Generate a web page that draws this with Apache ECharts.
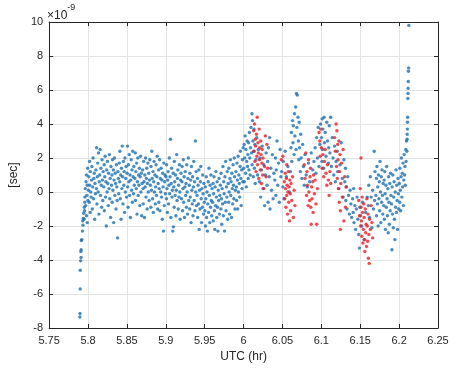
<!DOCTYPE html>
<html>
<head>
<meta charset="utf-8">
<script src="https://cdn.jsdelivr.net/npm/echarts@6/dist/echarts.min.js"></script>
<style>
  html, body { margin: 0; padding: 0; background: #ffffff; }
  #chart { width: 457px; height: 368px; }
</style>
</head>
<body>
<div id="chart"></div>
<script>
// Time offset samples: [UTC hour, offset in units of 1e-9 s]
const bluePoints = [
  // start-up tail
  [5.7895,-7.35],[5.7897,-7.15],[5.7899,-5.7],[5.790,-4.6],[5.7905,-4.05],[5.791,-3.85],[5.7908,-3.5],[5.7912,-3.4],[5.7915,-2.85],[5.7920,-2.8],
  [5.7928,-2.3],[5.7935,-1.95],[5.7932,-1.7],[5.7940,-1.55],[5.7945,-1.25],[5.7950,-1.6],[5.7952,-0.9],[5.7958,-0.6],[5.7955,-1.1],[5.796,-0.3],
  [5.7965,0.2],[5.797,-0.8],[5.7975,0.6],[5.798,-1.4],[5.798,1.0],[5.7985,-0.2],[5.799,0.4],[5.799,-1.8],[5.7995,1.4],[5.7998,-0.5],
  // 5.80 - 5.90
  [5.8005,0.1],[5.801,0.9],[5.8015,-0.6],[5.802,1.8],[5.8022,0.4],[5.8028,-1.2],[5.803,1.2],[5.8035,0.0],[5.804,-0.3],[5.8045,0.7],
  [5.805,1.5],[5.8055,-1.0],[5.806,0.3],[5.8065,2.0],[5.807,-0.4],[5.8075,0.8],[5.808,1.1],[5.8085,-1.6],[5.809,0.5],[5.8095,-0.1],
  [5.8102,1.3],[5.8108,0.2],[5.811,2.6],[5.8115,-0.7],[5.812,0.9],[5.8125,1.7],[5.813,0.0],[5.8135,2.3],[5.814,-1.3],[5.8145,0.6],
  [5.815,1.0],[5.8155,2.5],[5.816,-0.2],[5.8165,1.4],[5.817,0.4],[5.8175,-0.9],[5.818,1.9],[5.8185,0.7],[5.819,-0.5],[5.8195,1.2],
  [5.8202,0.3],[5.8208,1.6],[5.821,-1.1],[5.8215,0.9],[5.822,2.1],[5.8225,-0.3],[5.823,0.6],[5.8235,-2.0],[5.824,1.3],[5.8245,0.0],
  [5.825,1.8],[5.8255,0.5],[5.826,-0.8],[5.8265,1.1],[5.827,0.2],[5.8275,2.2],[5.828,-0.4],[5.8285,0.8],[5.829,-1.5],[5.8295,1.5],
  [5.8302,0.4],[5.8308,1.0],[5.831,-0.6],[5.8315,1.9],[5.832,0.1],[5.8325,1.3],[5.833,-1.8],[5.8335,0.7],[5.834,2.0],[5.8345,-0.2],
  [5.835,1.1],[5.8355,0.5],[5.836,-1.0],[5.8365,1.6],[5.837,0.3],[5.8375,-0.5],[5.838,-2.7],[5.8385,1.2],[5.839,0.8],[5.8395,-0.1],
  [5.8402,1.7],[5.8408,0.6],[5.841,2.4],[5.8415,-0.4],[5.842,1.0],[5.8425,-1.6],[5.843,1.4],[5.8435,0.2],[5.844,2.7],[5.8445,0.9],
  [5.845,-0.7],[5.8455,1.8],[5.846,0.4],[5.8465,1.2],[5.847,-1.2],[5.8475,2.0],[5.848,0.0],[5.8485,0.8],[5.849,1.5],[5.8495,-0.3],
  [5.8502,1.1],[5.8508,2.7],[5.851,0.3],[5.8515,-0.9],[5.852,1.6],[5.8525,0.6],[5.853,2.2],[5.8535,-0.2],[5.854,1.0],[5.8545,-1.5],
  [5.855,0.7],[5.8555,1.9],[5.856,0.1],[5.8565,1.3],[5.857,-0.6],[5.8575,2.4],[5.858,0.9],[5.8585,-0.1],[5.859,1.5],[5.8595,0.4],
  [5.8602,0.8],[5.8608,2.3],[5.861,-0.5],[5.8615,1.2],[5.862,0.2],[5.8625,1.7],[5.863,-1.3],[5.8635,0.6],[5.864,2.0],[5.8645,-0.2],
  [5.865,1.0],[5.8655,0.4],[5.866,1.4],[5.8665,-0.8],[5.867,0.9],[5.8675,2.1],[5.868,0.0],[5.8685,1.1],[5.869,-1.4],[5.8695,0.5],
  [5.8702,1.3],[5.8708,0.2],[5.871,-0.7],[5.8715,1.8],[5.872,0.6],[5.8725,-1.5],[5.873,1.0],[5.8735,0.3],[5.874,2.0],[5.8745,-0.3],
  [5.875,0.8],[5.8755,1.4],[5.876,-1.0],[5.8765,0.5],[5.877,1.7],[5.8775,0.0],[5.878,1.1],[5.8785,-0.5],[5.879,0.7],[5.8795,1.9],
  [5.8802,0.4],[5.8808,-0.9],[5.881,1.5],[5.8815,0.1],[5.882,2.4],[5.8825,0.8],[5.883,-0.4],[5.8835,1.2],[5.884,-1.2],[5.8845,0.6],
  [5.885,1.8],[5.8855,0.0],[5.886,1.0],[5.8865,-0.7],[5.887,0.3],[5.8875,1.6],[5.888,-0.2],[5.8885,0.9],[5.889,2.1],[5.8895,-1.0],
  [5.8902,0.5],[5.8908,1.3],[5.891,-0.6],[5.8915,0.2],[5.892,1.9],[5.8925,-1.1],[5.893,0.8],[5.8935,0.0],[5.894,1.4],[5.8945,-0.3],
  [5.895,0.7],[5.8955,-1.6],[5.896,1.1],[5.8965,0.3],[5.897,-2.3],[5.8975,1.7],[5.898,-0.8],[5.8985,0.6],[5.899,1.0],[5.8995,-0.1],
  // 5.90 - 6.00
  [5.9002,0.9],[5.9008,-0.4],[5.901,1.6],[5.9015,0.2],[5.902,-1.2],[5.9025,0.7],[5.903,1.2],[5.9035,-0.7],[5.904,0.4],[5.9045,2.0],
  [5.905,-0.1],[5.9055,0.9],[5.906,3.1],[5.9065,-1.5],[5.907,0.5],[5.9075,1.4],[5.908,-0.3],[5.9085,0.1],[5.909,-2.3],[5.9095,1.1],[5.9098,-2.05],
  [5.9102,0.3],[5.9108,-0.9],[5.911,1.8],[5.9115,0.6],[5.912,-0.2],[5.9125,1.0],[5.913,-1.4],[5.9135,0.1],[5.914,2.2],[5.9145,-0.5],
  [5.915,0.8],[5.9155,1.3],[5.916,-1.0],[5.9165,0.4],[5.917,-0.3],[5.9175,1.6],[5.918,0.0],[5.9185,-1.6],[5.919,0.7],[5.9195,1.1],
  [5.9202,-0.4],[5.9208,0.6],[5.921,1.5],[5.9215,-1.1],[5.922,0.2],[5.9225,1.9],[5.923,-0.6],[5.9235,0.9],[5.924,-1.5],[5.9245,0.3],
  [5.925,1.2],[5.9255,-0.2],[5.926,0.5],[5.9265,-0.9],[5.927,1.6],[5.9275,0.0],[5.928,-1.3],[5.9285,0.8],[5.929,2.0],[5.9295,-0.5],
  [5.9302,0.4],[5.9308,-1.0],[5.931,1.1],[5.9315,-0.3],[5.932,0.7],[5.9325,-1.8],[5.933,1.5],[5.9335,0.1],[5.934,-0.7],[5.9345,0.9],
  [5.935,-1.4],[5.9355,0.3],[5.936,1.8],[5.9365,-0.5],[5.937,0.6],[5.9375,-1.1],[5.938,3.0],[5.9385,0.0],[5.939,1.2],[5.9395,-0.8],
  [5.9402,-0.2],[5.9408,0.8],[5.941,-1.5],[5.9415,0.4],[5.942,-0.7],[5.9425,1.3],[5.943,-2.2],[5.9435,0.1],[5.944,-1.0],[5.9445,0.6],
  [5.945,1.5],[5.9455,-0.4],[5.946,-1.8],[5.9465,0.2],[5.947,-0.9],[5.9475,1.0],[5.948,-0.1],[5.9485,-1.3],[5.949,0.5],[5.9495,-0.6],
  [5.9502,-1.1],[5.9508,0.3],[5.951,-2.0],[5.9515,-0.4],[5.952,0.9],[5.9525,-1.5],[5.953,0.0],[5.9535,-2.3],[5.954,-0.7],[5.9545,0.6],
  [5.955,-1.2],[5.9555,1.4],[5.956,-0.2],[5.9565,-1.8],[5.957,0.4],[5.9575,-0.9],[5.958,1.0],[5.9585,-0.5],[5.959,-1.4],[5.9595,0.2],
  [5.9602,-0.6],[5.9608,0.5],[5.961,-1.7],[5.9615,-0.1],[5.962,0.9],[5.9625,-1.1],[5.963,-2.2],[5.9635,0.3],[5.964,-0.8],[5.9645,1.2],
  [5.965,-0.3],[5.9655,-1.5],[5.966,0.6],[5.9665,-0.9],[5.967,-2.3],[5.9675,0.1],[5.968,-0.5],[5.9685,0.8],[5.969,-1.3],[5.9695,-0.2],
  [5.9702,0.4],[5.9708,-1.0],[5.971,1.1],[5.9715,-0.4],[5.972,-1.9],[5.9725,0.2],[5.973,-0.7],[5.9735,1.5],[5.974,-1.4],[5.9745,0.6],
  [5.975,-0.1],[5.9755,-2.3],[5.976,0.9],[5.9765,-0.6],[5.977,1.8],[5.9775,-1.1],[5.978,0.3],[5.9785,-0.3],[5.979,1.2],[5.9795,-1.6],
  [5.9802,0.5],[5.9808,-0.6],[5.981,1.4],[5.9815,0.0],[5.982,-1.3],[5.9825,0.8],[5.983,1.9],[5.9835,-0.2],[5.984,0.6],[5.9845,-1.5],
  [5.985,1.1],[5.9855,0.2],[5.986,-0.7],[5.9865,1.6],[5.987,0.4],[5.9875,-0.4],[5.988,2.0],[5.9885,0.9],[5.989,-1.0],[5.9895,0.1],
  [5.9902,1.2],[5.9908,0.3],[5.991,-0.5],[5.9915,1.7],[5.992,0.7],[5.9925,-1.0],[5.993,2.1],[5.9935,0.0],[5.994,1.0],[5.9945,0.5],
  [5.995,-0.3],[5.9955,1.5],[5.996,2.4],[5.9965,0.8],[5.997,-0.8],[5.9975,1.3],[5.998,0.2],[5.9985,1.9],[5.999,0.6],[5.9995,2.6],
  // 6.00 - 6.10
  [6.0002,1.4],[6.0008,2.8],[6.001,0.6],[6.0015,2.0],[6.002,3.3],[6.0025,1.1],[6.003,2.5],[6.0035,0.3],[6.004,1.8],[6.0045,3.0],
  [6.005,1.5],[6.0055,2.2],[6.006,0.8],[6.0065,2.9],[6.007,1.3],[6.0075,3.5],[6.008,2.0],[6.0085,1.0],[6.009,2.6],[6.0095,3.8],
  [6.0102,2.3],[6.0108,4.6],[6.011,1.6],[6.0115,4.2],[6.012,3.0],[6.0125,0.9],[6.013,2.4],[6.0135,3.7],[6.014,1.4],[6.0145,2.8],
  [6.015,0.5],[6.016,1.9],[6.017,3.2],[6.018,1.0],[6.019,2.5],
  [6.0205,0.6],[6.021,2.0],[6.022,-0.3],[6.023,1.3],[6.024,2.7],[6.025,0.2],[6.026,1.6],[6.027,-0.8],[6.028,1.0],[6.029,2.3],
  [6.0302,0.4],[6.031,1.8],[6.0315,-0.6],[6.032,2.6],[6.033,0.9],[6.0335,3.2],[6.034,-1.0],[6.035,1.4],[6.036,0.1],[6.037,2.2],[6.038,-0.4],[6.039,1.1],
  [6.0402,0.7],[6.041,2.0],[6.0415,-0.2],[6.042,1.3],[6.043,3.0],[6.044,0.4],[6.045,1.7],[6.046,-0.6],[6.047,2.5],[6.048,0.9],[6.049,1.2],
  [6.0505,0.3],[6.051,1.8],[6.052,-0.4],[6.0535,2.4],[6.055,0.9],[6.057,1.5],[6.059,0.0],
  [6.0602,1.2],[6.061,2.6],[6.0615,3.5],[6.062,1.8],[6.063,4.2],[6.0635,2.9],[6.064,3.9],[6.065,2.2],[6.0655,4.6],[6.066,3.3],
  [6.067,5.0],[6.0675,2.5],[6.068,5.8],[6.0685,3.8],[6.069,5.7],[6.07,4.4],
  [6.0705,3.0],[6.071,1.9],[6.0715,4.1],[6.072,2.6],[6.073,1.2],[6.0735,3.4],[6.074,2.0],[6.075,0.8],[6.076,2.8],[6.077,1.5],[6.078,0.4],[6.079,2.2],
  [6.0805,1.0],[6.082,0.3],[6.0835,1.7],[6.085,0.6],[6.087,2.3],[6.089,1.3],
  [6.0905,1.8],[6.092,2.6],[6.093,1.1],[6.094,3.2],[6.095,2.0],[6.096,3.8],[6.097,1.5],[6.098,2.8],[6.099,4.0],
  // 6.10 - 6.21
  [6.1002,3.2],[6.1008,1.8],[6.101,4.3],[6.1015,2.5],[6.102,3.7],[6.103,1.4],[6.1035,4.4],[6.104,2.9],[6.105,3.5],[6.106,2.1],
  [6.107,4.1],[6.108,3.0],[6.109,1.7],[6.1095,2.6],
  [6.1102,3.9],[6.111,2.3],[6.112,4.4],[6.113,1.5],[6.114,3.2],[6.115,2.0],[6.116,1.0],[6.117,2.7],[6.118,0.6],[6.119,1.8],
  [6.1205,2.4],[6.121,1.2],[6.1225,0.2],[6.124,1.6],[6.1255,2.9],[6.127,0.8],[6.128,-0.3],[6.129,1.9],
  [6.1302,0.6],[6.131,1.4],[6.1315,-0.5],[6.132,0.3],[6.133,-1.0],[6.134,0.9],[6.135,-0.2],[6.136,-1.3],[6.137,0.1],[6.138,-0.7],[6.139,-1.5],
  [6.1402,-0.4],[6.141,-1.2],[6.1415,0.2],[6.142,-1.8],[6.143,-0.8],[6.144,-2.2],[6.145,-1.0],[6.146,-0.3],[6.147,-1.6],[6.148,-2.5],[6.149,-3.3],[6.1495,-0.9],
  [6.1505,-1.4],[6.152,-2.0],[6.153,-0.6],[6.155,-2.8],[6.157,-1.2],[6.159,-0.3],
  [6.1605,-0.8],[6.161,0.4],[6.162,-1.5],[6.163,0.9],[6.164,-0.3],[6.165,-2.1],[6.166,0.1],[6.167,-1.0],[6.168,2.4],[6.1685,-0.5],[6.169,1.2],
  [6.1702,-0.2],[6.1708,0.8],[6.171,-1.4],[6.1715,1.5],[6.172,-0.7],[6.1725,0.3],[6.173,-2.0],[6.1735,1.0],[6.174,-0.4],[6.1745,0.6],
  [6.175,-1.1],[6.1755,1.8],[6.176,0.0],[6.1765,-1.8],[6.177,0.9],[6.1775,-0.6],[6.178,1.3],[6.1785,-0.2],[6.179,-1.3],[6.1795,0.5],
  [6.1802,-0.8],[6.1808,0.7],[6.181,-1.6],[6.1815,1.2],[6.182,-0.1],[6.1825,-2.2],[6.183,0.4],[6.1835,-0.9],[6.184,1.5],[6.1845,-0.4],
  [6.185,-1.4],[6.1855,0.2],[6.186,-2.4],[6.1865,0.9],[6.187,-0.6],[6.1875,-1.9],[6.188,0.5],[6.1885,-1.1],[6.189,1.1],[6.1895,-0.2],
  [6.1902,-0.7],[6.1908,-3.4],[6.191,0.3],[6.1915,-1.3],[6.192,1.0],[6.1925,-2.1],[6.193,-0.3],[6.1935,0.6],[6.194,-1.6],[6.1945,-2.8],
  [6.195,0.0],[6.1955,-0.9],[6.196,1.3],[6.1965,-1.2],[6.197,0.4],[6.1975,-0.5],[6.198,-2.2],[6.1985,0.8],[6.199,-0.1],[6.1995,-1.0],
  [6.2002,0.5],[6.2008,-0.6],[6.201,1.4],[6.2015,0.1],[6.202,-1.1],[6.2025,0.9],[6.203,2.0],[6.2035,-0.3],[6.204,1.1],[6.2045,0.3],
  [6.205,1.7],[6.2055,-0.8],[6.206,0.7],[6.2065,2.2],[6.207,1.0],[6.2075,1.5],[6.208,0.4],[6.2085,2.5],[6.209,1.8],[6.2095,3.0],
  // final excursion
  [6.2100,2.4],[6.2102,3.1],[6.2104,3.4],[6.2106,3.7],[6.2108,4.1],[6.211,4.4],[6.2112,5.5],[6.2114,5.8],[6.2116,6.1],[6.2118,6.5],
  [6.212,7.1],[6.2122,7.3],[6.2125,9.8]
];

const redPoints = [
  [6.0130,3.6],[6.0135,2.4],[6.014,4.0],[6.0145,1.8],[6.015,3.1],[6.0155,2.7],[6.016,1.2],[6.0165,3.4],[6.017,2.1],[6.0175,4.4],
  [6.018,1.6],[6.0185,2.9],[6.019,2.3],[6.0195,0.8],[6.020,3.7],[6.0205,1.9],[6.021,2.6],[6.0215,1.3],[6.022,3.0],[6.0225,2.2],
  [6.023,0.5],[6.0235,1.7],[6.024,2.5],[6.0245,1.0],[6.025,2.0],[6.026,0.2],[6.027,1.5],[6.028,3.3],[6.029,0.9],[6.030,2.8],[6.031,1.4],
  [6.0485,1.9],[6.0505,2.1],[6.0555,1.6],
  [6.0525,0.6],[6.053,-0.4],[6.0535,1.1],[6.054,0.2],[6.0545,-0.9],[6.055,0.8],[6.0555,-0.2],[6.056,0.4],[6.0565,-1.3],[6.057,0.0],
  [6.0575,1.2],[6.058,-0.6],[6.0585,0.3],[6.059,-1.7],[6.0595,0.7],[6.060,-0.1],[6.0605,-1.1],[6.061,0.5],[6.062,-0.5],[6.063,0.9],
  [6.064,-1.5],[6.065,0.1],[6.066,-0.8],
  [6.0780,1.6],[6.079,0.8],[6.080,2.3],[6.081,-0.2],[6.0815,1.2],[6.082,0.4],[6.083,-0.8],[6.0835,1.9],[6.084,0.0],[6.085,-0.5],
  [6.0855,0.9],[6.086,1.4],[6.0865,-0.9],[6.087,-1.9],[6.0875,0.3],[6.088,-0.4],[6.089,0.6],[6.0895,-1.2],[6.090,1.0],[6.091,-0.1],
  [6.092,0.7],[6.093,-0.7],[6.094,-1.9],[6.095,0.2],
  [6.097,3.5],[6.098,3.0],[6.0985,2.1],[6.099,3.7],[6.100,2.6],[6.101,1.4],[6.102,2.2],[6.103,0.9],[6.104,1.8],[6.105,2.5],
  [6.106,1.1],[6.107,0.4],[6.108,1.6],[6.109,0.7],[6.110,-0.2],[6.111,1.2],[6.112,0.5],
  [6.117,3.2],[6.118,2.4],[6.119,4.0],[6.1195,1.5],[6.120,3.6],[6.1205,0.8],[6.121,2.8],[6.1215,1.9],[6.122,0.2],[6.1225,3.0],
  [6.123,-0.6],[6.1235,1.2],[6.124,2.2],[6.1245,-1.1],[6.1245,-2.2],[6.125,0.5],[6.126,1.7],[6.127,-0.3],[6.128,2.5],[6.129,-1.7],
  [6.130,0.9],[6.131,-0.9],[6.132,0.3],
  [6.151,2.0],
  [6.148,-0.5],[6.149,-1.4],[6.150,0.2],[6.1505,-2.0],[6.151,-0.9],[6.1515,-1.7],[6.152,-2.6],[6.1525,-0.3],[6.153,-1.2],[6.1535,-3.0],
  [6.154,-2.2],[6.1545,-0.7],[6.155,-1.5],[6.1555,-2.8],[6.156,-3.5],[6.1565,-1.0],[6.157,-2.4],[6.1575,-1.9],[6.158,-3.2],[6.1585,-0.4],
  [6.159,-2.0],[6.1595,-2.9],[6.160,-1.3],[6.1605,-3.9],[6.161,-2.5],[6.1615,-4.2],[6.162,-1.6],[6.163,-2.2],[6.164,-0.8],[6.165,-1.8],[6.166,-2.7]
];

const xRange = { min: 5.75, max: 6.25, step: 0.05 };
const yRange = { min: -8, max: 10, step: 2 };

const FONT = '"Liberation Sans", Arial, sans-serif';
const AXIS_COLOR = '#262626';
const GRID_COLOR = '#e3e3e3';

const chart = echarts.init(document.getElementById('chart'), null, { renderer: 'canvas' });

function valueAxis(range, extra) {
  return Object.assign({
    type: 'value',
    min: range.min,
    max: range.max,
    interval: range.step,
    axisLine: { show: true, onZero: false, lineStyle: { color: AXIS_COLOR, width: 1 } },
    axisTick: { show: true, inside: true, length: 4, lineStyle: { color: AXIS_COLOR } },
    axisLabel: { color: AXIS_COLOR, fontFamily: FONT, fontSize: 11 },
    splitLine: { show: false }
  }, extra);
}

chart.setOption({
  animation: false,
  backgroundColor: '#ffffff',
  grid: { left: 47, top: 22, right: 19, bottom: 40, containLabel: false },
  xAxis: [
    valueAxis(xRange, {
      position: 'bottom',
      name: 'UTC (hr)',
      nameLocation: 'middle',
      nameGap: 21,
      nameTextStyle: { color: AXIS_COLOR, fontFamily: FONT, fontSize: 12 },
      axisLabel: { color: AXIS_COLOR, fontFamily: FONT, fontSize: 11, margin: 7 },
      splitLine: { show: true, lineStyle: { color: GRID_COLOR, width: 1 } }
    }),
    valueAxis(xRange, { position: 'top', axisLabel: { show: false } })
  ],
  yAxis: [
    valueAxis(yRange, {
      position: 'left',
      name: '[sec]',
      nameLocation: 'middle',
      nameGap: 26,
      nameRotate: 90,
      nameTextStyle: { color: AXIS_COLOR, fontFamily: FONT, fontSize: 12 },
      axisLabel: { color: AXIS_COLOR, fontFamily: FONT, fontSize: 11, margin: 6 },
      splitLine: { show: true, lineStyle: { color: GRID_COLOR, width: 1 } }
    }),
    valueAxis(yRange, { position: 'right', axisLabel: { show: false } })
  ],
  graphic: [{
    type: 'text',
    left: 47,
    top: 3,
    style: {
      text: '{b|\u00d710}{s|-9}',
      rich: {
        b: { fontFamily: FONT, fontSize: 12, fill: AXIS_COLOR, padding: [7, 0, 0, 0] },
        s: { fontFamily: FONT, fontSize: 9, fill: AXIS_COLOR, verticalAlign: 'top' }
      }
    }
  }],
  series: [
    {
      type: 'scatter',
      xAxisIndex: 0,
      yAxisIndex: 0,
      data: bluePoints,
      symbol: 'circle',
      symbolSize: 3.4,
      itemStyle: { color: '#1a6fb0' },
      silent: true
    },
    {
      type: 'scatter',
      xAxisIndex: 0,
      yAxisIndex: 0,
      data: redPoints,
      symbol: 'circle',
      symbolSize: 3.4,
      itemStyle: { color: '#ec1c24' },
      silent: true
    }
  ]
});
</script>
</body>
</html>
